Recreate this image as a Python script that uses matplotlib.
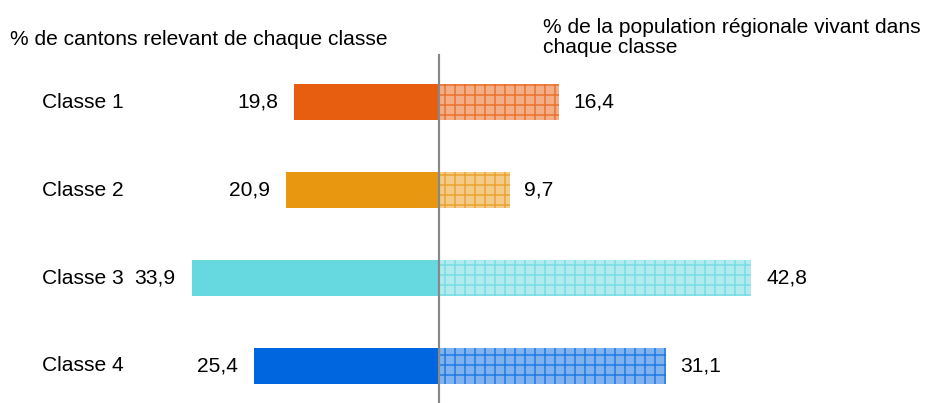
import matplotlib
matplotlib.use("Agg")
import matplotlib.pyplot as plt
import matplotlib.transforms as mtransforms
from matplotlib.colors import to_rgba

plt.rcParams['font.family'] = ['Liberation Sans', 'DejaVu Sans']
plt.rcParams['hatch.linewidth'] = 0.9

categories = ["Classe 1", "Classe 2", "Classe 3", "Classe 4"]
cantons = [19.8, 20.9, 33.9, 25.4]
population = [16.4, 9.7, 42.8, 31.1]
colors = ["#E85E10", "#E89711", "#66D8E0", "#0066E0"]
title_left = "% de cantons relevant de chaque classe"
title_right = ["% de la population régionale vivant dans", "chaque classe"]

W, H, DPI = 928, 403, 120
fig = plt.figure(figsize=(W / DPI, H / DPI), dpi=DPI)
ax = fig.add_axes([0, 0, 1, 1])
ax.set_axis_off()

pxu = 7.3
ax.set_xlim(-439 / pxu, (W - 439) / pxu)
sp = 88.0
ax.set_ylim((H - 102) / sp, -102 / sp)

FS = 12.6
ypos = list(range(len(categories)))
bh = 0.41
trans = mtransforms.blended_transform_factory(fig.transFigure, ax.transData)
for y, c, v_l, v_r, col in zip(ypos, categories, cantons, population, colors):
    ax.barh(y, -v_l, height=bh, color=col, edgecolor='none')
    ax.barh(y, v_r, height=bh, color=col, alpha=0.5, edgecolor='none')
    ax.barh(y, v_r, height=bh, facecolor='none', edgecolor=to_rgba(col, 0.75), hatch='++', linewidth=0)
    ax.text(-v_l - 2.2, y, f"{v_l:.1f}".replace('.', ','), ha='right', va='center', fontsize=FS)
    ax.text(v_r + 2.0, y, f"{v_r:.1f}".replace('.', ','), ha='left', va='center', fontsize=FS)
    ax.text(42 / W, y, c, ha='left', va='center', fontsize=FS, transform=trans)

ax.plot([0, 0], [(55 - 102) / sp, (H - 102) / sp], color='#888888', lw=1.3, zorder=5)

fig.text(10 / W, 1 - 45 / H, title_left, fontsize=FS, va='baseline', ha='left')
fig.text(543 / W, 1 - 33 / H, title_right[0], fontsize=FS, va='baseline', ha='left')
fig.text(543 / W, 1 - 53 / H, title_right[1], fontsize=FS, va='baseline', ha='left')

fig.savefig("out.png", dpi=DPI)
